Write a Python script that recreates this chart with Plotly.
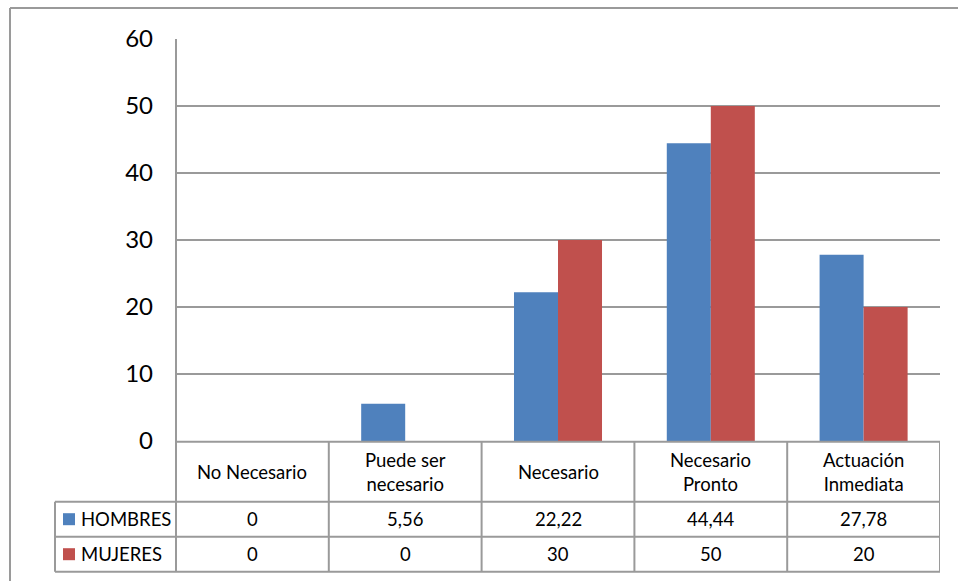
import plotly.graph_objects as go

categories = ["No Necesario", "Puede ser necesario", "Necesario", "Necesario Pronto", "Actuación Inmediata"]
header_labels = ["No Necesario", "Puede ser<br>necesario", "Necesario", "Necesario<br>Pronto", "Actuación<br>Inmediata"]
series_names = ["HOMBRES", "MUJERES"]
hombres = [0, 5.56, 22.22, 44.44, 27.78]
mujeres = [0, 0, 30, 50, 20]
hombres_txt = ["0", "5,56", "22,22", "44,44", "27,78"]
mujeres_txt = ["0", "0", "30", "50", "20"]
colors = ["#4F81BD", "#C0504D"]

W, H = 958, 581
L, R, T, B = 176, 18, 39, 140
PW = W - L - R
PH = H - T - B
FONT = "Lato, Carlito, Liberation Sans, sans-serif"
LINE = "#9a9a9a"
TS = 18.5


def px(x):
    return (x - L) / PW


def py(y):
    return (H - B - y) / PH


fig = go.Figure()
for name, vals, col in zip(series_names, [hombres, mujeres], colors):
    fig.add_trace(go.Bar(x=categories, y=vals, name=name, marker=dict(color=col, line=dict(width=0))))

shapes = []
# outer chart border (top and left)
shapes.append(dict(type="line", xref="paper", yref="paper", x0=px(10), x1=px(W + 5), y0=py(8), y1=py(8),
                   line=dict(color=LINE, width=2)))
shapes.append(dict(type="line", xref="paper", yref="paper", x0=px(10), x1=px(10), y0=py(8), y1=py(H + 5),
                   line=dict(color=LINE, width=2)))

row_y = [441.7, 501.7, 536.7, 571.7]
# horizontal table lines
shapes.append(dict(type="line", xref="paper", yref="paper", x0=0, x1=1, y0=py(row_y[0]), y1=py(row_y[0]),
                   line=dict(color=LINE, width=2)))
for yy in row_y[1:]:
    shapes.append(dict(type="line", xref="paper", yref="paper", x0=px(55), x1=1, y0=py(yy), y1=py(yy),
                       line=dict(color=LINE, width=2)))
# vertical lines
shapes.append(dict(type="line", xref="paper", yref="paper", x0=px(55), x1=px(55), y0=py(row_y[1]), y1=py(row_y[3]),
                   line=dict(color=LINE, width=2)))
shapes.append(dict(type="line", xref="paper", yref="paper", x0=0, x1=0, y0=1, y1=py(row_y[3]),
                   line=dict(color=LINE, width=2)))
for i in range(len(categories)):
    shapes.append(dict(type="line", xref="x", yref="paper", x0=i + 0.5, x1=i + 0.5, y0=py(row_y[0]), y1=py(row_y[3]),
                       line=dict(color=LINE, width=2)))
# legend swatches
for k, col in enumerate(colors):
    yc = (row_y[k + 1] + row_y[k + 2]) / 2
    shapes.append(dict(type="rect", xref="paper", yref="paper", x0=px(63), x1=px(75), y0=py(yc - 6), y1=py(yc + 6),
                       fillcolor=col, line=dict(width=0)))

annotations = []
hy = (row_y[0] + row_y[1]) / 2
for i, lab in enumerate(header_labels):
    annotations.append(dict(x=i, y=py(hy), xref="x", yref="paper", text=lab, showarrow=False,
                            font=dict(family=FONT, size=TS, color="#000"), xanchor="center", yanchor="middle"))
for k, txts in enumerate([hombres_txt, mujeres_txt]):
    yc = (row_y[k + 1] + row_y[k + 2]) / 2
    for i, t in enumerate(txts):
        annotations.append(dict(x=i, y=py(yc), xref="x", yref="paper", text=t, showarrow=False,
                                font=dict(family=FONT, size=TS, color="#000"), xanchor="center", yanchor="middle"))
    annotations.append(dict(x=px(79), y=py(yc), xref="paper", yref="paper", text=series_names[k], showarrow=False,
                            font=dict(family=FONT, size=TS, color="#000"), xanchor="left", yanchor="middle"))

fig.update_layout(
    width=W, height=H,
    margin=dict(l=L, r=R, t=T, b=B),
    paper_bgcolor="white", plot_bgcolor="white",
    barmode="group", bargap=0.424, bargroupgap=0,
    showlegend=False,
    font=dict(family=FONT, color="#000"),
    xaxis=dict(range=[-0.5, 4.5], showticklabels=False, showgrid=False, zeroline=False, showline=False,
               fixedrange=True),
    yaxis=dict(range=[0, 60], dtick=10, showgrid=True, gridcolor=LINE, gridwidth=2, zeroline=False,
               showline=False, tickfont=dict(family=FONT, size=24, color="#000"), ticks="",
               ticklabelstandoff=22),
    shapes=shapes,
    annotations=annotations,
)

fig.write_html("out.html")
